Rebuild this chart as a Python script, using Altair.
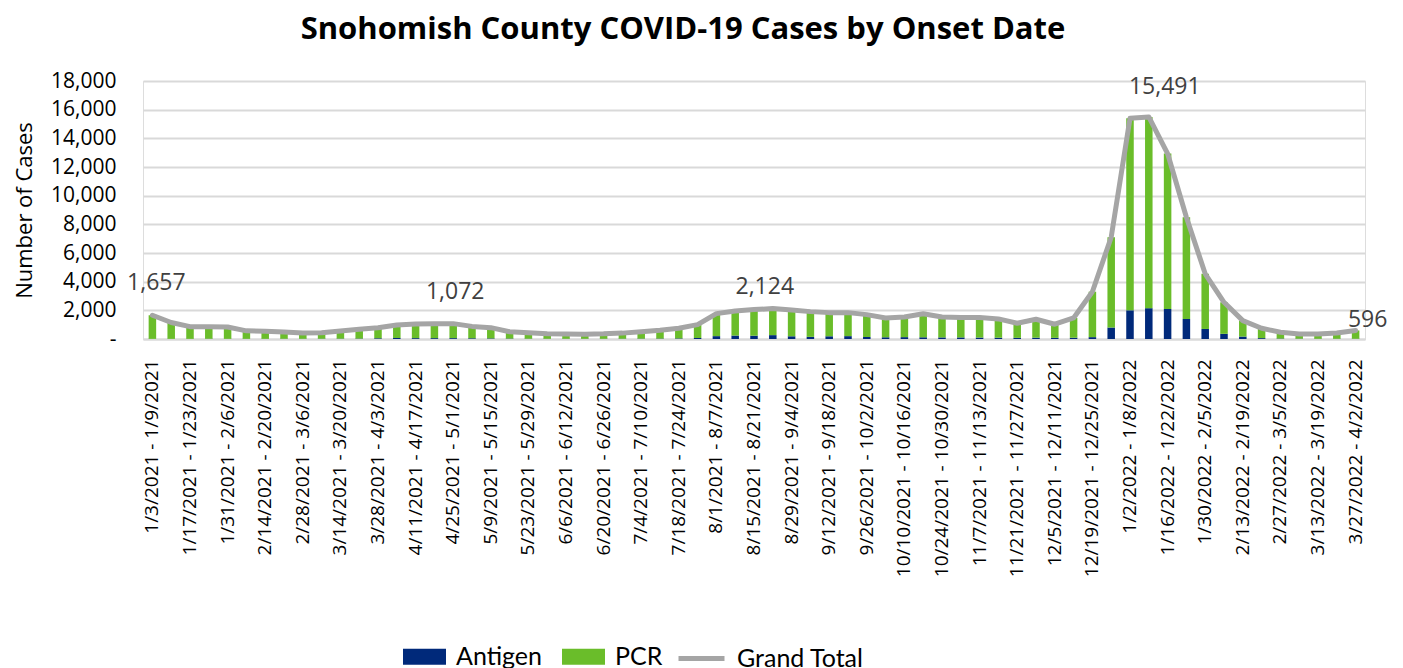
import datetime as dt
import altair as alt
import pandas as pd

# ---- data ----
start = dt.date(2021, 1, 3)
weeks = []
for i in range(65):
    a = start + dt.timedelta(days=7 * i)
    b = a + dt.timedelta(days=6)
    weeks.append(f"{a.month}/{a.day}/{a.year} - {b.month}/{b.day}/{b.year}")

grand_total = [
    1657, 1150, 860, 850, 840, 570, 540, 490, 420, 440,
    560, 680, 790, 970, 1040, 1070, 1072, 880, 790, 510,
    440, 370, 350, 340, 360, 410, 500, 610, 750, 1000,
    1770, 1960, 2050, 2124, 2030, 1910, 1840, 1840, 1700, 1470,
    1540, 1760, 1530, 1500, 1500, 1400, 1100, 1380, 1030, 1470,
    3300, 7100, 15400, 15491, 12940, 8500, 4550, 2560, 1280, 750,
    470, 350, 350, 420, 596,
]
antigen = [
    10, 10, 10, 10, 10, 10, 10, 15, 15, 20,
    25, 30, 50, 70, 60, 60, 60, 50, 40, 30,
    20, 15, 15, 15, 15, 20, 25, 30, 40, 70,
    200, 240, 230, 270, 190, 150, 190, 200, 140, 120,
    130, 120, 110, 110, 100, 90, 80, 90, 80, 90,
    130, 800, 2000, 2150, 2100, 1400, 700, 360, 170, 60,
    30, 20, 15, 15, 15,
]
pcr = [t - a for t, a in zip(grand_total, antigen)]

series_names = ["Antigen", "PCR"]
series_colors = ["#00297A", "#6ABD2A"]
line_color = "#A5A5A5"
y_ticks = [0, 2000, 4000, 6000, 8000, 10000, 12000, 14000, 16000, 18000]

# labelled points: (week index, text, dx, dy)
point_labels = [
    (0, "1,657", 4, -32),
    (16, "1,072", 2, -32),
    (33, "2,124", -8, -22),
    (53, "15,491", 16, -30),
    (64, "596", 12, -10),
]

# ---- tables ----
rows = []
for i, w in enumerate(weeks):
    rows.append({"week": w, "series": "Antigen", "value": antigen[i], "ord": 0})
    rows.append({"week": w, "series": "PCR", "value": pcr[i], "ord": 1})
bar_df = pd.DataFrame(rows)
tot_df = pd.DataFrame({"week": weeks, "value": grand_total, "name": "Grand Total"})

FONT = "Open Sans"


def x_enc():
    return alt.X(
        "week:N",
        sort=weeks,
        scale=alt.Scale(paddingInner=0.6, paddingOuter=0.3),
        axis=alt.Axis(
            title=None,
            values=weeks[::2],
            labelAngle=270,
            labelFont=FONT,
            labelFontSize=19,
            labelColor="#000000",
            labelPadding=20,
            labelLimit=0,
            labelOverlap=False,
            ticks=False,
            grid=False,
            domainColor="#D9D9D9",
            domainWidth=2,
        ),
    )


def y_enc(stack=None):
    kw = {}
    if stack:
        kw["stack"] = stack
    return alt.Y(
        "value:Q",
        scale=alt.Scale(domain=[0, 18000], nice=False),
        axis=alt.Axis(
            title="Number of Cases",
            titleFont=FONT,
            titleFontSize=22,
            titleFontWeight="normal",
            titleColor="#000000",
            titlePadding=14,
            values=y_ticks,
            labelOverlap=False,
            labelExpr="datum.value == 0 ? '-\u00a0\u00a0\u00a0' : format(datum.value, ',')",
            labelFont=FONT,
            labelFontSize=21,
            labelColor="#000000",
            labelPadding=27,
            ticks=False,
            domain=False,
            gridColor="#D9D9D9",
            gridWidth=2,
        ),
        **kw,
    )


bars = alt.Chart(bar_df).mark_bar().encode(
    x=x_enc(),
    y=y_enc("zero"),
    color=alt.Color(
        "series:N",
        scale=alt.Scale(domain=series_names, range=series_colors),
        legend=alt.Legend(
            title=None,
            orient="none",
            legendX=260,
            legendY=554,
            direction="horizontal",
            symbolType="M-1,-0.372H1V0.372H-1Z",
            symbolSize=43 * 43,
            symbolStrokeWidth=0,
            symbolOpacity=1,
            labelFont="Lato",
            labelFontSize=25,
            labelColor="#000000",
            labelOffset=10,
            columnPadding=19,
        ),
    ),
    order=alt.Order("ord:Q"),
)

line = alt.Chart(tot_df).mark_line(strokeWidth=5, strokeJoin="round", strokeCap="round").encode(
    x=x_enc(),
    y=y_enc(),
    stroke=alt.Stroke(
        "name:N",
        scale=alt.Scale(domain=["Grand Total"], range=[line_color]),
        legend=alt.Legend(
            title=None,
            orient="none",
            legendX=533,
            legendY=552,
            symbolType="stroke",
            symbolSize=46 * 46,
            symbolStrokeWidth=5,
            labelFont="Lato",
            labelFontSize=25,
            labelColor="#000000",
            labelOffset=10,
        ),
    ),
)

label_layers = []
for idx, txt, dx, dy in point_labels:
    ldf = pd.DataFrame({"week": [weeks[idx]], "value": [grand_total[idx]], "txt": [txt]})
    label_layers.append(
        alt.Chart(ldf)
        .mark_text(font=FONT, fontSize=23, color="#404040", dx=dx, dy=dy)
        .encode(x=x_enc(), y=y_enc(), text="txt:N")
    )

chart = (
    alt.layer(bars, line, *label_layers)
    .properties(
        width=1222,
        height=258,
        title=alt.TitleParams(
            "Snohomish County COVID-19 Cases by Onset Date",
            font=FONT,
            fontSize=31,
            fontWeight="bold",
            color="#000000",
            anchor="middle",
            dx=-71,
            offset=24,
        ),
    )
    .configure_view(stroke=None)
    .configure(padding={"left": 5, "top": 6, "right": 5, "bottom": 5})
)

chart.save("out.html", embed_options={"renderer": "svg", "actions": False})
